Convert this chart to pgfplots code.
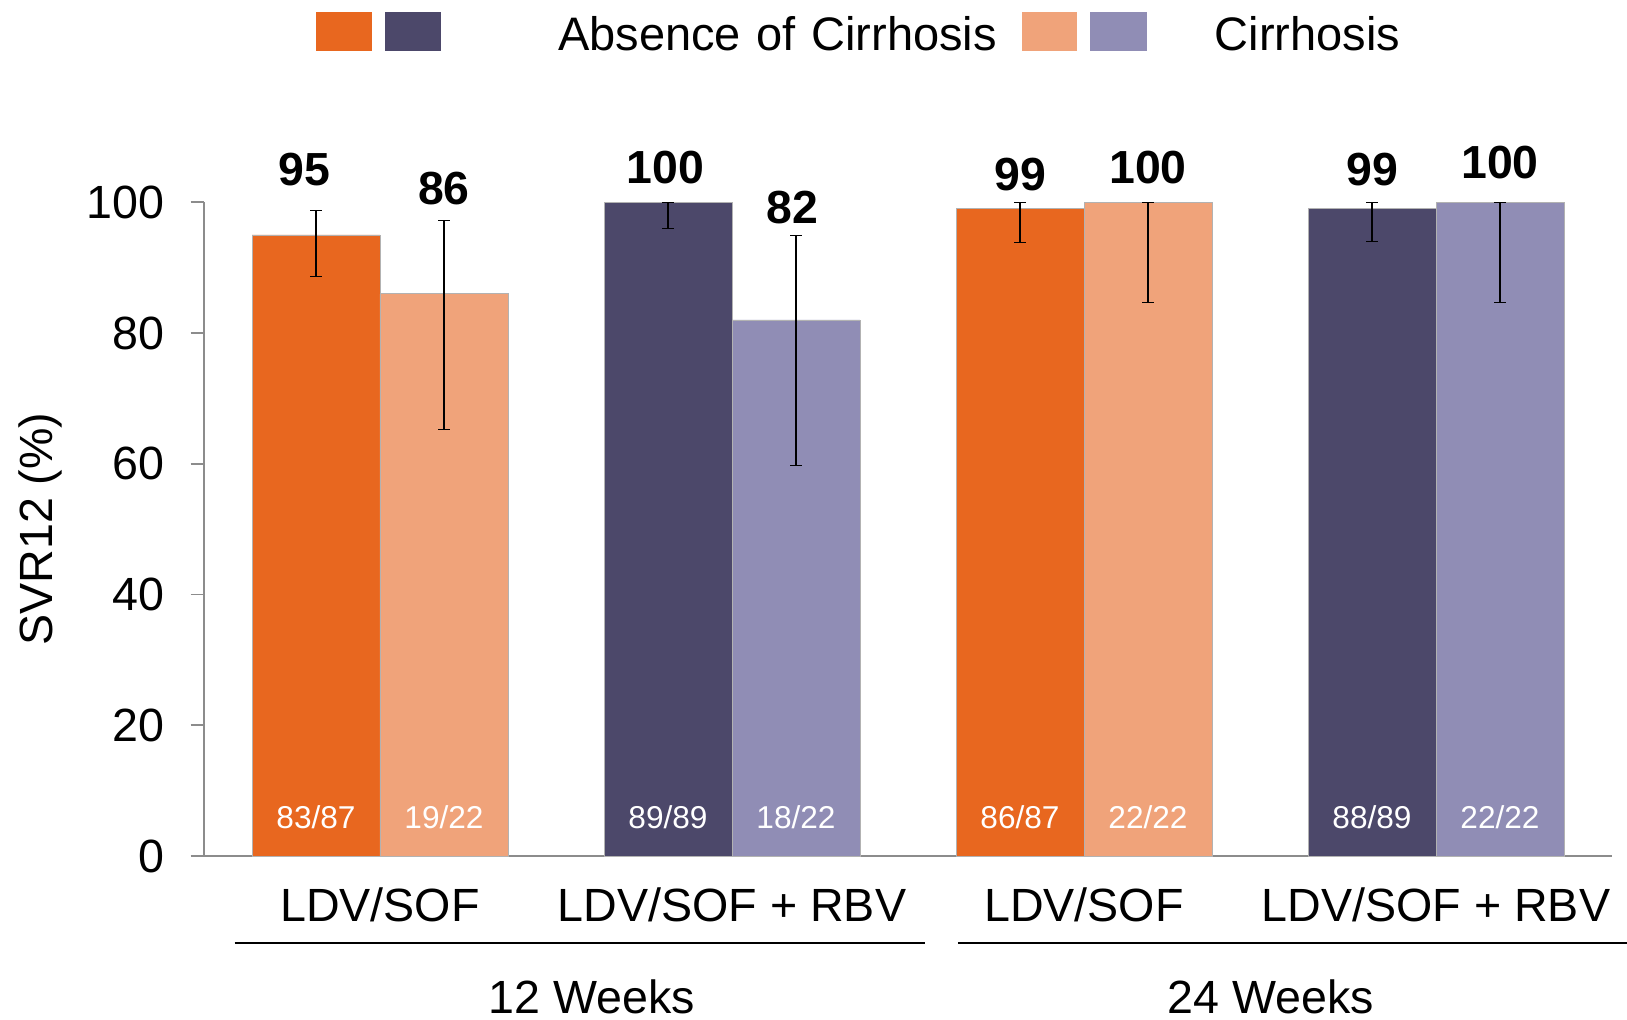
\documentclass[border=0pt]{standalone}
\usepackage{fontspec}
\setmainfont{Liberation Sans}
\usepackage{pgfplots}
\pgfplotsset{compat=1.18}

\definecolor{noCirA}{HTML}{E8671F}  % LDV/SOF, no cirrhosis
\definecolor{cirA}{HTML}{F0A37A}    % LDV/SOF, cirrhosis
\definecolor{noCirB}{HTML}{4C486A}  % LDV/SOF + RBV, no cirrhosis
\definecolor{cirB}{HTML}{908DB5}    % LDV/SOF + RBV, cirrhosis
\definecolor{axisgray}{HTML}{8C8C8C}

\newcommand{\bigfont}{\fontsize{23.3}{27}\selectfont}
\newcommand{\tickfont}{\fontsize{23.3}{27}\selectfont}
\newcommand{\valfont}{\bfseries\fontsize{23.2}{27}\selectfont}
\newcommand{\nfont}{\fontsize{15.8}{18}\selectfont}

\begin{document}
\begin{tikzpicture}
\begin{axis}[
  scale only axis, width=704pt, height=326.85pt,
  xmin=0.5, xmax=4.5, ymin=0, ymax=100,
  clip=false,
  axis lines=left,
  axis line style={-, axisgray, line width=0.8pt},
  tick align=outside,
  major tick length=6.7pt,
  ytick={0,20,40,60,80,100},
  ytick style={axisgray, line width=0.8pt},
  yticklabel style={font=\tickfont, anchor=east, inner sep=0pt},
  yticklabel shift=12.8pt,
  /pgf/number format/assume math mode=true,
  xtick={1,2,3,4},
  xticklabels={LDV/SOF, LDV/SOF + RBV, LDV/SOF, LDV/SOF + RBV},
  xtick style={draw=none},
  xticklabel style={font=\bigfont, anchor=base, inner sep=0pt, yshift=-26pt},
  ylabel={SVR12 (\%)},
  ylabel style={font=\bigfont, at={(rel axis cs:-0.1165,0.5)}, anchor=center},
  ybar,
  error bars/y dir=both,
  error bars/y explicit,
  error bars/error bar style={black, solid, line width=0.6pt},
  error bars/error mark options={black, solid, rotate=90, mark size=2.9pt, line width=0.6pt},
  legend style={at={(0.07933,1.2917)}, anchor=north west, draw=none, fill=none,
    inner sep=0pt, /tikz/column sep=0pt,
    cells={anchor=base}, nodes={inner sep=0pt, text depth=0pt, font=\fontsize{23.5}{27}\selectfont}},
  legend columns=2,
]
% bars: x = group centre -/+ half a bar width
\addplot[fill=noCirA, draw=black!30, line width=0.4pt, bar width=0.3636, bar shift=0pt, forget plot]
  coordinates {(0.8182,95) += (0,3.8) -= (0,6.3)
               (2.8182,99) += (0,1.0) -= (0,5.2)};
\addplot[fill=cirA, draw=black!30, line width=0.4pt, bar width=0.3636, bar shift=0pt, forget plot]
  coordinates {(1.1818,86) += (0,11.2) -= (0,20.8)
               (3.1818,100) += (0,0) -= (0,15.3)};
\addplot[fill=noCirB, draw=black!30, line width=0.4pt, bar width=0.3636, bar shift=0pt, forget plot]
  coordinates {(1.8182,100) += (0,0) -= (0,4.0)
               (3.8182,99) += (0,1.0) -= (0,5.0)};
\addplot[fill=cirB, draw=black!30, line width=0.4pt, bar width=0.3636, bar shift=0pt, forget plot]
  coordinates {(2.1818,82) += (0,12.9) -= (0,22.3)
               (4.1818,100) += (0,0) -= (0,15.3)};

% legend: two colour swatches per entry
\addlegendimage{legend image code/.code={
  \fill[noCirA] (0pt,0.1pt) rectangle (27.5pt,19.1pt);
  \fill[noCirB] (34.3pt,0.1pt) rectangle (61.8pt,19.1pt);
  \path (120.6pt,0pt);}}
\addlegendentry[text width=232pt, align=left]{Absence of Cirrhosis}
\addlegendimage{legend image code/.code={
  \fill[cirA] (0pt,0.1pt) rectangle (27pt,19.1pt);
  \fill[cirB] (34pt,0.1pt) rectangle (62pt,19.1pt);
  \path (96pt,0pt);}}
\addlegendentry{Cirrhosis}

% percentages above the bars
\node[anchor=base, font=\valfont] at (axis cs:0.786,102.6) {95};
\node[anchor=base, font=\valfont] at (axis cs:1.1818,99.7) {86};
\node[anchor=base, font=\valfont] at (axis cs:1.811,102.8) {100};
\node[anchor=base, font=\valfont] at (axis cs:2.172,96.8) {82};
\node[anchor=base, font=\valfont] at (axis cs:2.8182,101.8) {99};
\node[anchor=base, font=\valfont] at (axis cs:3.1818,102.8) {100};
\node[anchor=base, font=\valfont] at (axis cs:3.8182,102.6) {99};
\node[anchor=base, font=\valfont] at (axis cs:4.1818,103.6) {100};

% patient counts inside the bars
\node[anchor=base, font=\nfont, text=white] at (axis cs:0.8182,4.2) {83/87};
\node[anchor=base, font=\nfont, text=white] at (axis cs:1.1818,4.2) {19/22};
\node[anchor=base, font=\nfont, text=white] at (axis cs:1.8182,4.2) {89/89};
\node[anchor=base, font=\nfont, text=white] at (axis cs:2.1818,4.2) {18/22};
\node[anchor=base, font=\nfont, text=white] at (axis cs:2.8182,4.2) {86/87};
\node[anchor=base, font=\nfont, text=white] at (axis cs:3.1818,4.2) {22/22};
\node[anchor=base, font=\nfont, text=white] at (axis cs:3.8182,4.2) {88/89};
\node[anchor=base, font=\nfont, text=white] at (axis cs:4.1818,4.2) {22/22};

% treatment-duration brackets
\draw[line width=1pt] ([yshift=-43.7pt]axis cs:0.587,0) -- ([yshift=-43.7pt]axis cs:2.549,0);
\draw[line width=1pt] ([yshift=-43.7pt]axis cs:2.642,0) -- ([yshift=-43.7pt]axis cs:4.6,0);
\node[anchor=base, inner sep=0pt, font=\bigfont] at ([yshift=-78.8pt]axis cs:1.6014,0) {12 Weeks};
\node[anchor=base, inner sep=0pt, font=\bigfont] at ([yshift=-78.8pt]axis cs:3.5298,0) {24 Weeks};
\end{axis}
\pgfresetboundingbox
\path[use as bounding box] (-102pt,-82pt) rectangle (711.5pt,428pt);
\end{tikzpicture}
\end{document}
